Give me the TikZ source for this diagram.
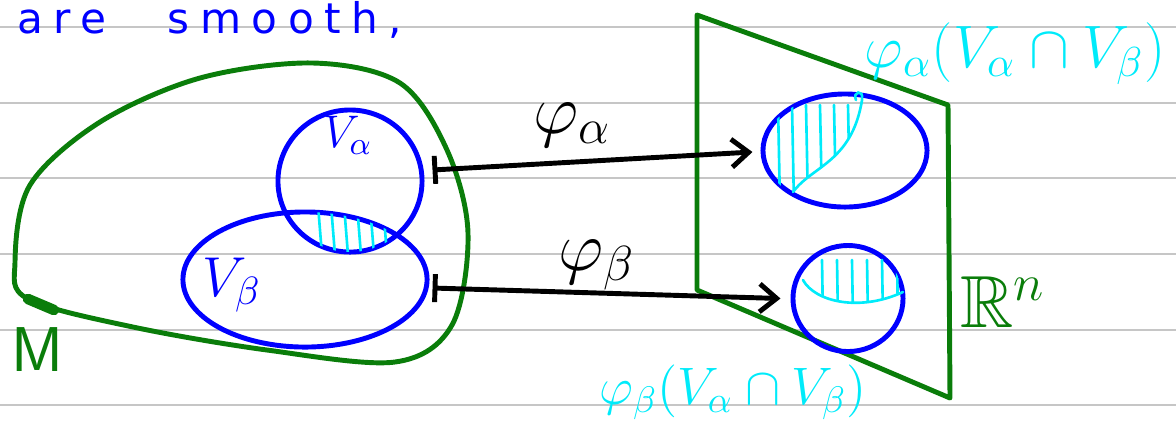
\RequirePackage{fix-cm}
\documentclass[tikz,border=0pt]{standalone}
\usepackage{amssymb}
\usepackage{fontspec}
\newfontfamily\handfont[LetterSpace=25]{DejaVu Sans}
\usetikzlibrary{arrows.meta,shapes.geometric}
\definecolor{hcyan}{RGB}{0,235,250}
\definecolor{hgreen}{RGB}{10,125,10}

\begin{document}
\begin{tikzpicture}[x=0.01cm,y=-0.01cm,line width=1.4pt,
  chart/.style={draw=blue,ellipse,inner sep=0pt,line width=1.4pt},
  hatch/.style={hcyan,line width=0.75pt,line cap=round},
  mapsto/.style={{Bar[width=2.8mm]}-{Straight Barb[length=1.7mm,width=2.8mm]},line width=1.4pt},
  greenpen/.style={hgreen,line width=1.4pt,line join=round}]
  \useasboundingbox (0,0) rectangle (1176,432);
  % renglones del cuaderno
  \foreach \y in {27,103,178,254,330,405}
    \draw[gray!45,line width=0.45pt] (0,\y)--(1176,\y);
  \node[blue,anchor=base west,inner sep=0pt,font=\handfont\fontsize{12}{13}\selectfont] (are) at (15,33) {are};
  \node[blue,anchor=base west,inner sep=0pt,font=\handfont\fontsize{12}{13}\selectfont] (smooth) at (165,33) {smooth,};
  % la variedad M
  \draw[greenpen] plot[smooth cycle,tension=0.55] coordinates {(313,63) (400,83) (447,150) (468,233) (452,325) (395,362) (267,350) (133,327) (28,299) (15,262) (30,185) (100,122) (200,78)};
  \draw[hgreen,line width=3pt,line cap=round] (28,299)--(54,310);
  \node[hgreen,font=\sffamily\fontsize{18}{20}\selectfont] (M) at (37,350) {M};
  % cartas en M
  \node[chart,minimum width=1.44cm,minimum height=1.42cm] (Va) at (350,181) {};
  \node[chart,minimum width=2.44cm,minimum height=1.35cm] (Vb) at (305,279.5) {};
  \node[blue,font=\fontsize{13}{15}\selectfont] (lVa) at (348,135) {$V_\alpha$};
  \node[blue,font=\fontsize{16}{18}\selectfont] (lVb) at (232,285) {$V_\beta$};
  \begin{scope}
    \clip (350,181) ellipse [x radius=72,y radius=71];
    \clip (305,279.5) ellipse [x radius=122,y radius=67.5];
    \foreach \x in {318,331,...,383}
      \draw[hatch] (\x,205)--(\x+4,255);
  \end{scope}
  % el plano R^n
  \draw[greenpen] (697,15)--(948,105)--(950,398)--(697,290)--cycle;
  \node[hgreen,font=\fontsize{21}{24}\selectfont] (Rn) at (1003,302) {$\mathbb{R}^n$};
  \node[chart,minimum width=1.64cm,minimum height=1.13cm] (Ua) at (845,150.5) {};
  \node[chart,minimum width=1.10cm,minimum height=1.06cm] (Ub) at (848,298.5) {};
  \begin{scope}
    \clip (845,150.5) ellipse [x radius=82,y radius=56.5];
    \clip (750,80)--(750,200)--(793,192) .. controls (812,166) and (852,162) .. (862,100)--(862,80)--cycle;
    \foreach \x in {778,792,...,862}
      \draw[hatch] (\x,105)--(\x+2,205);
  \end{scope}
  \draw[hatch] (793,192) .. controls (812,166) and (852,162) .. (862,100) .. controls (864,88) and (852,92) .. (856,100);
  \begin{scope}
    \clip (848,298.5) ellipse [x radius=55,y radius=53];
    \clip (790,250)--(790,280)--(803,280) .. controls (815,302) and (860,312) .. (903,292)--(910,250)--cycle;
    \foreach \x in {822,837,...,897}
      \draw[hatch] (\x,260)--(\x+1,320);
  \end{scope}
  \draw[hatch] (803,280) .. controls (815,302) and (860,312) .. (903,292);
  % las funciones
  \draw[mapsto] ([xshift=0.08cm,yshift=0.11cm]Va.east)--([xshift=-0.08cm,yshift=-0.015cm]Ua.west);
  \draw[mapsto] ([xshift=0.03cm,yshift=-0.085cm]Vb.east)--([xshift=-0.1cm]Ub.west);
  \node[font=\fontsize{20}{24}\selectfont] (phia) at (572,125) {$\varphi_\alpha$};
  \node[font=\fontsize{20}{24}\selectfont] (phib) at (597,265) {$\varphi_\beta$};
  \node[hcyan,font=\fontsize{17}{20}\selectfont] (imga) at (1015,54) {$\varphi_\alpha(V_\alpha\cap V_\beta)$};
  \node[hcyan,font=\fontsize{15}{18}\selectfont] (imgb) at (733,392) {$\varphi_\beta(V_\alpha\cap V_\beta)$};
\end{tikzpicture}
\end{document}
